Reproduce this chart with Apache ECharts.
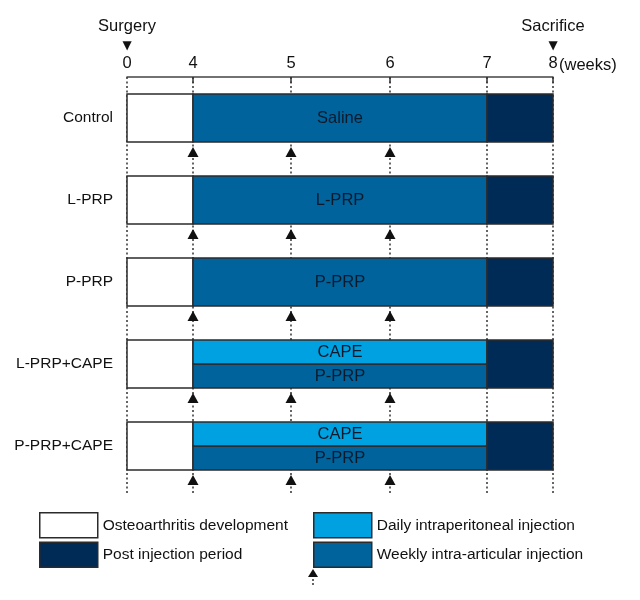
<!DOCTYPE html>
<html><head><meta charset="utf-8">
<script src="https://cdn.jsdelivr.net/npm/echarts@6/dist/echarts.min.js"></script>
<style>html,body{margin:0;padding:0;background:#fff}#c{width:640px;height:600px}</style>
</head><body><div id="c"></div>
<script>
// ---- data ----
const rows = ['Control', 'L-PRP', 'P-PRP', 'L-PRP+CAPE', 'P-PRP+CAPE'];
const weekTicks = [0, 4, 5, 6, 7, 8];
const eventWeeks = [0, 8];
const eventNames = ['Surgery', 'Sacrifice'];
const devStart = [0, 0, 0, 0, 0];
const devEnd = [4, 4, 4, 4, 4];
const weeklyStart = [4, 4, 4, 4, 4];
const weeklyEnd = [7, 7, 7, 7, 7];
const weeklyLabels = ['Saline', 'L-PRP', 'P-PRP', 'P-PRP', 'P-PRP'];
const dailyRows = [3, 4];
const dailyStart = [4, 4];
const dailyEnd = [7, 7];
const dailyLabels = ['CAPE', 'CAPE'];
const postStart = [7, 7, 7, 7, 7];
const postEnd = [8, 8, 8, 8, 8];
const injectionWeeks = [4, 5, 6];
const legendLeft = ['Osteoarthritis development', 'Post injection period'];
const legendRight = ['Daily intraperitoneal injection', 'Weekly intra-articular injection'];

// ---- broken time scale (weeks -> axis units) ----
const scaleWeeks = [0, 4, 5, 6, 7, 8];
const scaleAxis = [0, 66, 164, 263, 360, 426];
function toAxis(w) {
  for (let i = 0; i < scaleWeeks.length - 1; i++) {
    if (w <= scaleWeeks[i + 1]) {
      const t = (w - scaleWeeks[i]) / (scaleWeeks[i + 1] - scaleWeeks[i]);
      return scaleAxis[i] + t * (scaleAxis[i + 1] - scaleAxis[i]);
    }
  }
  return scaleAxis[scaleAxis.length - 1];
}
function toWeek(a) {
  let best = 0;
  scaleAxis.forEach((v, i) => { if (Math.abs(v - a) < Math.abs(scaleAxis[best] - a)) best = i; });
  return scaleWeeks[best];
}

const FONT = "'Liberation Sans',Arial,sans-serif";
const FS = 15.5;
const C_WHITE = '#ffffff', C_NAVY = '#002b57', C_LIGHT = '#00a1e0', C_MED = '#00639c';
const STROKE = '#2b2b2b';
const BAR_FRAC = 48 / 82;

const hasDaily = r => dailyRows.indexOf(r) >= 0;

function segData(starts, ends, rowIdx, partFn) {
  return starts.map((s, i) => [s, ends[i], rowIdx ? rowIdx[i] : i, partFn(rowIdx ? rowIdx[i] : i)]);
}
const devData = segData(devStart, devEnd, null, () => 0);
const postData = segData(postStart, postEnd, null, () => 0);
const weeklyData = segData(weeklyStart, weeklyEnd, null, r => hasDaily(r) ? 2 : 0);
const dailyData = segData(dailyStart, dailyEnd, dailyRows, () => 1);

function makeSegRender(labels) {
  return function (params, api) {
    const s = toAxis(api.value(0)), e = toAxis(api.value(1));
    const r = api.value(2), part = api.value(3);
    const p0 = api.coord([s, r]);
    const p1 = api.coord([e, r]);
    const band = params.coordSys.height / rows.length;
    const h = band * BAR_FRAC;
    let y = p0[1] - h / 2, hh = h;
    if (part === 1) hh = h / 2;
    if (part === 2) { y = p0[1]; hh = h / 2; }
    const el = {
      type: 'rect',
      shape: { x: p0[0], y: y, width: p1[0] - p0[0], height: hh },
      style: { fill: api.visual('color'), stroke: STROKE, lineWidth: 1.5 }
    };
    if (labels) {
      el.textContent = { style: { text: labels[params.dataIndex], fill: '#0c1a2b', fontSize: FS + 1, fontFamily: FONT } };
      el.textConfig = { position: 'inside' };
    }
    return el;
  };
}

const guideData = weekTicks.map(w => [w, 0]);
function guideRender(params, api) {
  const x = api.coord([toAxis(api.value(0)), 0])[0];
  const cs = params.coordSys;
  return {
    type: 'line',
    shape: { x1: x, y1: cs.y, x2: x, y2: cs.y + cs.height + 6 },
    style: { stroke: '#333', lineWidth: 1.5, lineDash: [2, 2.5] }
  };
}

const arrowData = [];
rows.forEach((r, ri) => injectionWeeks.forEach(w => arrowData.push([w, ri])));
function arrowRender(params, api) {
  const p = api.coord([toAxis(api.value(0)), api.value(1)]);
  const band = params.coordSys.height / rows.length;
  const b = p[1] + band * BAR_FRAC / 2;
  return {
    type: 'polygon',
    shape: { points: [[p[0], b + 5], [p[0] - 5.5, b + 15], [p[0] + 5.5, b + 15]] },
    style: { fill: '#111' }
  };
}

const chart = echarts.init(document.getElementById('c'));
const legendItem = (name, color) => ({ name: name, itemStyle: { color: color, borderColor: STROKE, borderWidth: 1.5 } });
chart.setOption({
  animation: false,
  backgroundColor: '#fff',
  textStyle: { fontFamily: FONT },
  grid: { left: 127, top: 77, width: 426, height: 410, containLabel: false, outerBoundsMode: 'none' },
  xAxis: {
    type: 'value', position: 'top', min: 0, max: 426,
    splitLine: { show: false },
    axisLine: { show: true, lineStyle: { color: '#444', width: 1.5 } },
    axisTick: { show: true, inside: true, length: 6, customValues: [4, 5, 6, 7, 8].map(toAxis), lineStyle: { color: '#333', width: 1.5 } },
    axisLabel: {
      show: true, margin: 5, color: '#111', fontSize: FS + 1, fontFamily: FONT,
      customValues: weekTicks.map(toAxis),
      formatter: function (v) {
        const w = toWeek(v);
        const ei = eventWeeks.indexOf(w);
        if (ei >= 0) return '{ev|' + eventNames[ei] + '}\n{tri|▼}\n{n|' + w + '}';
        return '{n|' + w + '}';
      },
      rich: {
        ev: { fontSize: FS + 1, lineHeight: 24, fontFamily: FONT, color: '#111' },
        tri: { fontSize: 12, lineHeight: 16, fontFamily: 'DejaVu Sans', color: '#111' },
        n: { fontSize: FS + 1, lineHeight: 18, fontFamily: FONT, color: '#111' }
      }
    },
    name: '(weeks)', nameLocation: 'end', nameGap: 6, nameMoveOverlap: false,
    nameTextStyle: { fontSize: FS + 1, fontFamily: FONT, color: '#111', align: 'left', verticalAlign: 'bottom', padding: [0, 0, 3, 0] }
  },
  yAxis: {
    type: 'category', inverse: true, data: rows,
    axisLine: { show: false }, axisTick: { show: false }, splitLine: { show: false },
    axisLabel: { margin: 14, fontSize: FS, color: '#111', fontFamily: FONT }
  },
  legend: [
    { orient: 'vertical', left: 39, top: 512, padding: 0, itemWidth: 58, itemHeight: 25, itemGap: 3, icon: 'rect', selectedMode: false,
      textStyle: { fontSize: FS, color: '#111', fontFamily: FONT },
      data: [legendItem(legendLeft[0], C_WHITE), legendItem(legendLeft[1], C_NAVY)] },
    { orient: 'vertical', left: 313, top: 512, padding: 0, itemWidth: 58, itemHeight: 25, itemGap: 3, icon: 'rect', selectedMode: false,
      textStyle: { fontSize: FS, color: '#111', fontFamily: FONT },
      data: [legendItem(legendRight[0], C_LIGHT), legendItem(legendRight[1], C_MED)] }
  ],
  graphic: [{
    type: 'group', left: 308, top: 569,
    children: [
      { type: 'line', shape: { x1: 6, y1: 6, x2: 6, y2: 18 }, style: { stroke: '#333', lineWidth: 1.5, lineDash: [2, 2] } },
      { type: 'polygon', shape: { points: [[6, 0], [1, 8], [11, 8]] }, style: { fill: '#111' } }
    ]
  }],
  series: [
    { type: 'custom', name: 'guides', z: 1, silent: true, renderItem: guideRender, data: guideData, encode: { x: 0, y: 1 } },
    { type: 'custom', name: legendLeft[0], z: 2, itemStyle: { color: C_WHITE }, renderItem: makeSegRender(null), data: devData, encode: { x: [0, 1], y: 2 } },
    { type: 'custom', name: legendRight[1], z: 2, itemStyle: { color: C_MED }, renderItem: makeSegRender(weeklyLabels), data: weeklyData, encode: { x: [0, 1], y: 2 } },
    { type: 'custom', name: legendRight[0], z: 2, itemStyle: { color: C_LIGHT }, renderItem: makeSegRender(dailyLabels), data: dailyData, encode: { x: [0, 1], y: 2 } },
    { type: 'custom', name: legendLeft[1], z: 2, itemStyle: { color: C_NAVY }, renderItem: makeSegRender(null), data: postData, encode: { x: [0, 1], y: 2 } },
    { type: 'custom', name: 'arrows', z: 3, silent: true, renderItem: arrowRender, data: arrowData, encode: { x: 0, y: 1 } }
  ]
});
</script></body></html>
